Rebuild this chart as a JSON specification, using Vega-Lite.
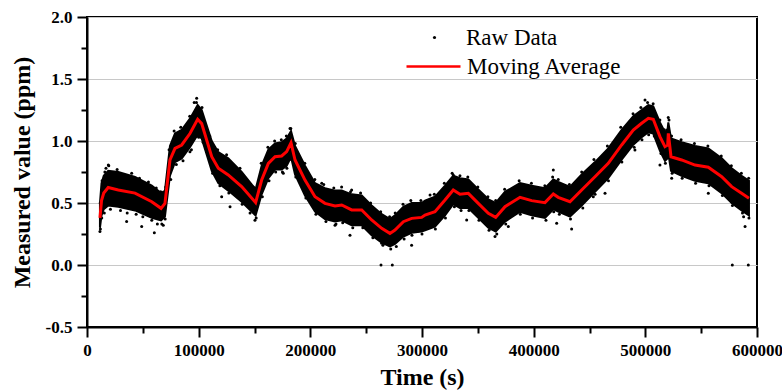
{
  "$schema": "https://vega.github.io/schema/vega-lite/v6.json",
  "autosize": {"type": "none"},
  "padding": {"left": 87, "top": 17, "right": 25, "bottom": 64},
  "width": 670,
  "height": 310,
  "background": "white",
  "config": {
    "view": {"stroke": "black", "strokeWidth": 2},
    "axis": {"domainColor": "black", "domainWidth": 2, "tickColor": "black", "tickWidth": 2, "labelFont": "Liberation Serif", "labelFontWeight": "bold", "labelFontSize": 17, "labelColor": "black", "titleFont": "Liberation Serif", "titleFontWeight": "bold", "titleFontSize": 24, "titleColor": "black"}
  },
  "datasets": {
    "avg": [
      {"t": 11600, "avg": 0.38, "lo": 0.30, "hi": 0.50},
      {"t": 13000, "avg": 0.52, "lo": 0.40, "hi": 0.66},
      {"t": 15000, "avg": 0.58, "lo": 0.45, "hi": 0.72},
      {"t": 19000, "avg": 0.625, "lo": 0.48, "hi": 0.76},
      {"t": 28000, "avg": 0.605, "lo": 0.47, "hi": 0.75},
      {"t": 43000, "avg": 0.58, "lo": 0.44, "hi": 0.71},
      {"t": 58000, "avg": 0.51, "lo": 0.38, "hi": 0.64},
      {"t": 66300, "avg": 0.457, "lo": 0.36, "hi": 0.58},
      {"t": 69800, "avg": 0.497, "lo": 0.39, "hi": 0.60},
      {"t": 74300, "avg": 0.847, "lo": 0.72, "hi": 0.96},
      {"t": 78800, "avg": 0.94, "lo": 0.83, "hi": 1.06},
      {"t": 84800, "avg": 0.968, "lo": 0.86, "hi": 1.09},
      {"t": 92200, "avg": 1.06, "lo": 0.95, "hi": 1.18},
      {"t": 99100, "avg": 1.175, "lo": 1.05, "hi": 1.29},
      {"t": 102700, "avg": 1.14, "lo": 1.02, "hi": 1.25},
      {"t": 111700, "avg": 0.873, "lo": 0.76, "hi": 1.00},
      {"t": 117600, "avg": 0.78, "lo": 0.66, "hi": 0.91},
      {"t": 126500, "avg": 0.726, "lo": 0.60, "hi": 0.86},
      {"t": 138500, "avg": 0.632, "lo": 0.51, "hi": 0.75},
      {"t": 151000, "avg": 0.503, "lo": 0.40, "hi": 0.61},
      {"t": 156400, "avg": 0.685, "lo": 0.57, "hi": 0.80},
      {"t": 162400, "avg": 0.82, "lo": 0.70, "hi": 0.93},
      {"t": 168400, "avg": 0.873, "lo": 0.77, "hi": 0.98},
      {"t": 174300, "avg": 0.879, "lo": 0.77, "hi": 0.99},
      {"t": 178800, "avg": 0.914, "lo": 0.80, "hi": 1.02},
      {"t": 182700, "avg": 0.986, "lo": 0.87, "hi": 1.08},
      {"t": 186300, "avg": 0.847, "lo": 0.73, "hi": 0.96},
      {"t": 195200, "avg": 0.685, "lo": 0.56, "hi": 0.80},
      {"t": 204200, "avg": 0.55, "lo": 0.43, "hi": 0.66},
      {"t": 213100, "avg": 0.497, "lo": 0.37, "hi": 0.62},
      {"t": 222100, "avg": 0.476, "lo": 0.35, "hi": 0.60},
      {"t": 228100, "avg": 0.484, "lo": 0.36, "hi": 0.60},
      {"t": 237000, "avg": 0.444, "lo": 0.32, "hi": 0.57},
      {"t": 246000, "avg": 0.444, "lo": 0.32, "hi": 0.56},
      {"t": 254900, "avg": 0.363, "lo": 0.24, "hi": 0.48},
      {"t": 263900, "avg": 0.296, "lo": 0.18, "hi": 0.41},
      {"t": 271300, "avg": 0.255, "lo": 0.15, "hi": 0.37},
      {"t": 275800, "avg": 0.282, "lo": 0.17, "hi": 0.40},
      {"t": 283300, "avg": 0.349, "lo": 0.23, "hi": 0.47},
      {"t": 290700, "avg": 0.376, "lo": 0.26, "hi": 0.50},
      {"t": 299700, "avg": 0.384, "lo": 0.27, "hi": 0.50},
      {"t": 302700, "avg": 0.403, "lo": 0.28, "hi": 0.52},
      {"t": 311600, "avg": 0.43, "lo": 0.31, "hi": 0.55},
      {"t": 320600, "avg": 0.524, "lo": 0.40, "hi": 0.64},
      {"t": 328000, "avg": 0.605, "lo": 0.49, "hi": 0.72},
      {"t": 334000, "avg": 0.57, "lo": 0.46, "hi": 0.70},
      {"t": 341500, "avg": 0.578, "lo": 0.46, "hi": 0.69},
      {"t": 350400, "avg": 0.497, "lo": 0.38, "hi": 0.61},
      {"t": 359400, "avg": 0.417, "lo": 0.30, "hi": 0.53},
      {"t": 366000, "avg": 0.384, "lo": 0.27, "hi": 0.50},
      {"t": 374300, "avg": 0.47, "lo": 0.35, "hi": 0.59},
      {"t": 387800, "avg": 0.546, "lo": 0.43, "hi": 0.66},
      {"t": 398200, "avg": 0.519, "lo": 0.40, "hi": 0.64},
      {"t": 410100, "avg": 0.503, "lo": 0.38, "hi": 0.62},
      {"t": 417600, "avg": 0.573, "lo": 0.45, "hi": 0.69},
      {"t": 422000, "avg": 0.546, "lo": 0.43, "hi": 0.67},
      {"t": 432500, "avg": 0.51, "lo": 0.39, "hi": 0.63},
      {"t": 443000, "avg": 0.605, "lo": 0.48, "hi": 0.73},
      {"t": 454900, "avg": 0.712, "lo": 0.59, "hi": 0.83},
      {"t": 466800, "avg": 0.82, "lo": 0.70, "hi": 0.94},
      {"t": 478800, "avg": 0.968, "lo": 0.85, "hi": 1.09},
      {"t": 489200, "avg": 1.089, "lo": 0.97, "hi": 1.20},
      {"t": 496700, "avg": 1.143, "lo": 1.03, "hi": 1.25},
      {"t": 502700, "avg": 1.183, "lo": 1.07, "hi": 1.29},
      {"t": 507100, "avg": 1.175, "lo": 1.06, "hi": 1.28},
      {"t": 513100, "avg": 1.035, "lo": 0.92, "hi": 1.15},
      {"t": 517600, "avg": 0.954, "lo": 0.84, "hi": 1.07},
      {"t": 520000, "avg": 0.968, "lo": 0.86, "hi": 1.10},
      {"t": 520600, "avg": 1.062, "lo": 0.90, "hi": 1.15},
      {"t": 523000, "avg": 0.873, "lo": 0.76, "hi": 1.02},
      {"t": 532500, "avg": 0.847, "lo": 0.72, "hi": 0.99},
      {"t": 544500, "avg": 0.806, "lo": 0.68, "hi": 0.96},
      {"t": 556400, "avg": 0.788, "lo": 0.66, "hi": 0.94},
      {"t": 568400, "avg": 0.712, "lo": 0.58, "hi": 0.86},
      {"t": 577300, "avg": 0.632, "lo": 0.50, "hi": 0.78},
      {"t": 586200, "avg": 0.578, "lo": 0.44, "hi": 0.72},
      {"t": 592800, "avg": 0.538, "lo": 0.40, "hi": 0.68}
    ],
    "raw": [
      {"t": 11800, "v": 0.50}, {"t": 12000, "v": 0.29}, {"t": 13500, "v": 0.68}, {"t": 13200, "v": 0.38},
      {"t": 16000, "v": 0.75}, {"t": 15500, "v": 0.42}, {"t": 19500, "v": 0.80}, {"t": 21000, "v": 0.45},
      {"t": 23000, "v": 0.74}, {"t": 27000, "v": 0.77}, {"t": 30000, "v": 0.44}, {"t": 33000, "v": 0.73},
      {"t": 36000, "v": 0.42}, {"t": 40000, "v": 0.74}, {"t": 44000, "v": 0.41}, {"t": 47000, "v": 0.70},
      {"t": 50000, "v": 0.39}, {"t": 55000, "v": 0.67}, {"t": 58000, "v": 0.36}, {"t": 62000, "v": 0.62},
      {"t": 63000, "v": 0.33}, {"t": 66000, "v": 0.59}, {"t": 67000, "v": 0.33}, {"t": 70500, "v": 0.63},
      {"t": 70000, "v": 0.37}, {"t": 73500, "v": 0.93}, {"t": 75000, "v": 0.69}, {"t": 78000, "v": 1.08},
      {"t": 80000, "v": 0.81}, {"t": 84000, "v": 1.11}, {"t": 86000, "v": 0.84}, {"t": 92000, "v": 1.20},
      {"t": 93500, "v": 0.93}, {"t": 98000, "v": 1.31}, {"t": 100000, "v": 1.03}, {"t": 103000, "v": 1.27},
      {"t": 104000, "v": 0.99}, {"t": 110000, "v": 1.04}, {"t": 112500, "v": 0.74}, {"t": 117000, "v": 0.93},
      {"t": 119000, "v": 0.64}, {"t": 125000, "v": 0.89}, {"t": 127000, "v": 0.58}, {"t": 137000, "v": 0.78},
      {"t": 139000, "v": 0.49}, {"t": 149000, "v": 0.63}, {"t": 151500, "v": 0.38}, {"t": 156000, "v": 0.82},
      {"t": 157000, "v": 0.55}, {"t": 162000, "v": 0.95}, {"t": 163000, "v": 0.68}, {"t": 168000, "v": 1.00},
      {"t": 169000, "v": 0.75}, {"t": 174000, "v": 1.01}, {"t": 175000, "v": 0.75}, {"t": 178500, "v": 1.04},
      {"t": 179000, "v": 0.78}, {"t": 182500, "v": 1.10}, {"t": 183000, "v": 0.85}, {"t": 186500, "v": 0.98},
      {"t": 187000, "v": 0.71}, {"t": 195000, "v": 0.82}, {"t": 196000, "v": 0.54}, {"t": 204000, "v": 0.69},
      {"t": 205000, "v": 0.41}, {"t": 212000, "v": 0.65}, {"t": 214000, "v": 0.35}, {"t": 221000, "v": 0.62},
      {"t": 223000, "v": 0.33}, {"t": 228000, "v": 0.63}, {"t": 229000, "v": 0.34}, {"t": 236000, "v": 0.59},
      {"t": 238000, "v": 0.30}, {"t": 245000, "v": 0.58}, {"t": 247000, "v": 0.30}, {"t": 254000, "v": 0.50},
      {"t": 256000, "v": 0.22}, {"t": 263000, "v": 0.43}, {"t": 265000, "v": 0.16}, {"t": 271000, "v": 0.39},
      {"t": 272000, "v": 0.13}, {"t": 276000, "v": 0.42}, {"t": 277000, "v": 0.15}, {"t": 283000, "v": 0.49},
      {"t": 284000, "v": 0.21}, {"t": 290000, "v": 0.52}, {"t": 291000, "v": 0.24}, {"t": 299000, "v": 0.52},
      {"t": 300000, "v": 0.25}, {"t": 311000, "v": 0.57}, {"t": 312000, "v": 0.29}, {"t": 320000, "v": 0.66},
      {"t": 321000, "v": 0.38}, {"t": 327000, "v": 0.74}, {"t": 329000, "v": 0.47}, {"t": 334000, "v": 0.72},
      {"t": 335000, "v": 0.44}, {"t": 341000, "v": 0.71}, {"t": 342000, "v": 0.44}, {"t": 350000, "v": 0.63},
      {"t": 351000, "v": 0.36}, {"t": 359000, "v": 0.55}, {"t": 360000, "v": 0.28}, {"t": 366000, "v": 0.52},
      {"t": 367000, "v": 0.25}, {"t": 374000, "v": 0.61}, {"t": 375000, "v": 0.33}, {"t": 387000, "v": 0.68},
      {"t": 388000, "v": 0.41}, {"t": 398000, "v": 0.66}, {"t": 399000, "v": 0.38}, {"t": 410000, "v": 0.64},
      {"t": 411000, "v": 0.36}, {"t": 417000, "v": 0.71}, {"t": 418000, "v": 0.43}, {"t": 422000, "v": 0.69},
      {"t": 423000, "v": 0.41}, {"t": 432000, "v": 0.65}, {"t": 433000, "v": 0.37}, {"t": 443000, "v": 0.75},
      {"t": 444000, "v": 0.46}, {"t": 454000, "v": 0.85}, {"t": 455000, "v": 0.57}, {"t": 466000, "v": 0.96},
      {"t": 467000, "v": 0.68}, {"t": 478000, "v": 1.11}, {"t": 479000, "v": 0.83}, {"t": 489000, "v": 1.22},
      {"t": 490000, "v": 0.95}, {"t": 496000, "v": 1.27}, {"t": 497000, "v": 1.01}, {"t": 502000, "v": 1.31},
      {"t": 503000, "v": 1.05}, {"t": 507000, "v": 1.30}, {"t": 508000, "v": 1.04}, {"t": 513000, "v": 1.17},
      {"t": 514000, "v": 0.90}, {"t": 517000, "v": 1.09}, {"t": 518000, "v": 0.82}, {"t": 520500, "v": 1.19},
      {"t": 521000, "v": 0.88}, {"t": 523500, "v": 1.04}, {"t": 524000, "v": 0.74}, {"t": 532000, "v": 1.01},
      {"t": 533000, "v": 0.70}, {"t": 544000, "v": 0.98}, {"t": 545000, "v": 0.66}, {"t": 556000, "v": 0.96},
      {"t": 557000, "v": 0.64}, {"t": 568000, "v": 0.88}, {"t": 569000, "v": 0.56}, {"t": 577000, "v": 0.80},
      {"t": 578000, "v": 0.48}, {"t": 586000, "v": 0.74}, {"t": 587000, "v": 0.42}, {"t": 592500, "v": 0.70},
      {"t": 592800, "v": 0.38},
      {"t": 98200, "v": 1.345}, {"t": 96000, "v": 1.31}, {"t": 19100, "v": 0.806}, {"t": 17000, "v": 0.78},
      {"t": 11600, "v": 0.27}, {"t": 60300, "v": 0.26}, {"t": 35500, "v": 0.35}, {"t": 49000, "v": 0.31},
      {"t": 68300, "v": 0.32}, {"t": 92200, "v": 0.914}, {"t": 120600, "v": 0.55}, {"t": 128100, "v": 0.47},
      {"t": 146000, "v": 0.42}, {"t": 150400, "v": 0.36}, {"t": 175800, "v": 0.74}, {"t": 181800, "v": 1.10},
      {"t": 210200, "v": 0.66}, {"t": 237000, "v": 0.605}, {"t": 222100, "v": 0.32}, {"t": 235500, "v": 0.24},
      {"t": 263900, "v": 0.175}, {"t": 290700, "v": 0.16}, {"t": 307200, "v": 0.565}, {"t": 328000, "v": 0.726},
      {"t": 340000, "v": 0.363}, {"t": 365400, "v": 0.23}, {"t": 377300, "v": 0.31}, {"t": 417600, "v": 0.766},
      {"t": 420600, "v": 0.336}, {"t": 434000, "v": 0.29}, {"t": 453400, "v": 0.55}, {"t": 499700, "v": 1.33},
      {"t": 521200, "v": 1.17}, {"t": 513100, "v": 0.806}, {"t": 523600, "v": 0.70}, {"t": 556400, "v": 0.578},
      {"t": 589300, "v": 0.31}, {"t": 588000, "v": 0.39}, {"t": 490700, "v": 0.927}, {"t": 463900, "v": 0.578},
      {"t": 263300, "v": 0.0}, {"t": 273400, "v": 0.0}, {"t": 577900, "v": 0.0}, {"t": 592200, "v": 0.0}
    ]
  },
  "layer": [
    {
      "data": {"name": "avg"},
      "mark": {"type": "area", "color": "black", "stroke": "black", "strokeWidth": 2},
      "encoding": {
        "x": {"field": "t", "type": "quantitative", "scale": {"domain": [0, 600000], "nice": false, "zero": false},
          "axis": {"values": [0, 100000, 200000, 300000, 400000, 500000, 600000], "format": "d", "tickSize": 10, "labelPadding": 5, "grid": false, "title": "Time (s)", "titlePadding": 7, "labelFlush": false}},
        "y": {"field": "lo", "type": "quantitative", "scale": {"domain": [-0.5, 2.0], "nice": false, "zero": false},
          "axis": {"values": [-0.5, 0, 0.5, 1.0, 1.5, 2.0], "labelExpr": "datum.value < 0 ? '-0.5' : format(datum.value, '.1f')", "tickSize": 10, "labelPadding": 5, "grid": true, "gridColor": "#c8c8c8", "gridWidth": 1, "title": "Measured value (ppm)", "titlePadding": 11, "labelFlush": false}},
        "y2": {"field": "hi"}
      }
    },
    {
      "data": {"name": "raw"},
      "mark": {"type": "point", "filled": true, "size": 9, "opacity": 1},
      "encoding": {
        "x": {"field": "t", "type": "quantitative",
          "axis": {"orient": "bottom", "values": [50000, 150000, 250000, 350000, 450000, 550000], "tickSize": 6, "labels": false, "domain": false, "grid": false, "title": null}},
        "y": {"field": "v", "type": "quantitative",
          "axis": {"orient": "left", "values": [-0.25, 0.25, 0.75, 1.25, 1.75], "tickSize": 6, "labels": false, "domain": false, "grid": false, "title": null}},
        "fill": {"datum": "Raw Data", "type": "nominal",
          "scale": {"domain": ["Raw Data"], "range": ["black"]},
          "legend": {
            "title": null, "orient": "none", "legendX": 336, "legendY": 9, "padding": 0,
            "symbolType": "circle", "symbolSize": 10, "symbolStrokeWidth": 0, "labelOffset": 20,
            "labelFont": "Liberation Serif", "labelFontSize": 23, "labelColor": "black", "labelLimit": 300
          }}
      }
    },
    {
      "data": {"name": "avg"},
      "mark": {"type": "line", "strokeWidth": 3},
      "encoding": {
        "x": {"field": "t", "type": "quantitative", "axis": null},
        "y": {"field": "avg", "type": "quantitative", "axis": null},
        "stroke": {"datum": "Moving Average", "type": "nominal",
          "scale": {"domain": ["Moving Average"], "range": ["#ff0000"]},
          "legend": {
            "title": null, "orient": "none", "legendX": 318, "legendY": 21, "padding": 0,
            "symbolType": "stroke", "symbolSize": 2916, "symbolStrokeWidth": 2.5, "labelOffset": 5,
            "labelFont": "Liberation Serif", "labelFontSize": 23, "labelColor": "black", "labelLimit": 300
          }}
      }
    }
  ],
  "resolve": {"axis": {"x": "independent", "y": "independent"}}
}
